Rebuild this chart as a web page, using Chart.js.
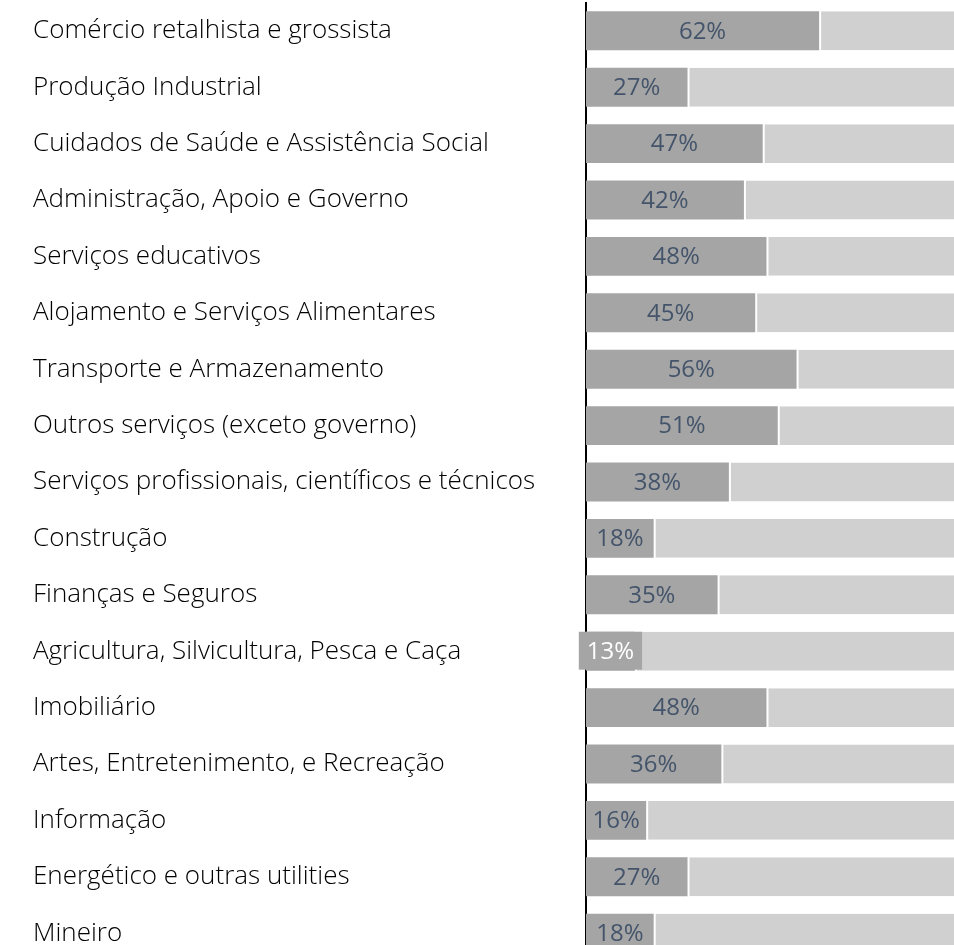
<!DOCTYPE html>
<html>
<head>
<meta charset="utf-8">
<script src="https://cdn.jsdelivr.net/npm/chart.js@4/dist/chart.umd.min.js"></script>
<style>
    html, body { margin: 0; padding: 0; background: #fff; overflow: hidden; }
    #wrap { width: 954px; height: 945px; overflow: hidden; position: relative; }
    canvas { position: absolute; left: 0; top: -16px; }
</style>
</head>
<body>
<div id="wrap"><canvas id="myChart" width="962" height="996" style="width:962px;height:996px"></canvas></div>
<script>
const sectors = [
    "Comércio retalhista e grossista",
    "Produção Industrial",
    "Cuidados de Saúde e Assistência Social",
    "Administração, Apoio e Governo",
    "Serviços educativos",
    "Alojamento e Serviços Alimentares",
    "Transporte e Armazenamento",
    "Outros serviços (exceto governo)",
    "Serviços profissionais, científicos e técnicos",
    "Construção",
    "Finanças e Seguros",
    "Agricultura, Silvicultura, Pesca e Caça",
    "Imobiliário",
    "Artes, Entretenimento, e Recreação",
    "Informação",
    "Energético e outras utilities",
    "Mineiro"
];
const shares = [62, 27, 47, 42, 48, 45, 56, 51, 38, 18, 35, 13, 48, 36, 16, 27, 18];
const remainder = shares.map(v => 100 - v);

const darkGray = '#a5a5a5';
const lightGray = '#d0d0d0';
const labelColor = '#44546a';

// value labels centred in the dark segment; boxed in white when they don't fit
const valueLabels = {
    id: 'valueLabels',
    afterDraw(chart) {
        const ctx = chart.ctx;
        const meta = chart.getDatasetMeta(0);
        ctx.save();
        ctx.font = '24px "Open Sans"';
        ctx.textBaseline = 'middle';
        ctx.textAlign = 'center';
        meta.data.forEach((bar, i) => {
            const text = shares[i] + '%';
            const w = ctx.measureText(text).width;
            const cx = (bar.x + bar.base) / 2;
            const segW = bar.x - bar.base;
            if (w + 6 > segW) {
                const boxW = w + 16;
                ctx.fillStyle = darkGray;
                ctx.fillRect(cx - boxW / 2, bar.y - bar.height / 2, boxW, bar.height - 1);
                ctx.fillStyle = '#ffffff';
            } else {
                ctx.fillStyle = labelColor;
            }
            ctx.fillText(text, cx, bar.y + 1);
        });
        ctx.restore();
    }
};

const ctx = document.getElementById('myChart').getContext('2d');
new Chart(ctx, {
    type: 'bar',
    data: {
        labels: sectors,
        datasets: [
            {
                data: shares,
                backgroundColor: darkGray,
                borderWidth: 0,
                categoryPercentage: 1,
                barPercentage: 0.69
            },
            {
                data: remainder,
                backgroundColor: lightGray,
                borderColor: '#ffffff',
                borderWidth: { left: 2, top: 0, right: 0, bottom: 0 },
                borderSkipped: false,
                categoryPercentage: 1,
                barPercentage: 0.69
            }
        ]
    },
    options: {
        indexAxis: 'y',
        responsive: false,
        animation: false,
        layout: { padding: { left: 33, top: 2, right: 0, bottom: 1 } },
        plugins: {
            legend: { display: false },
            tooltip: { enabled: false }
        },
        scales: {
            x: {
                stacked: true,
                min: 0,
                max: 100,
                display: false
            },
            y: {
                stacked: true,
                afterFit: (scale) => { scale.width = 553; },
                grid: { display: true, color: 'rgba(0,0,0,0)', drawTicks: false },
                border: { display: true, color: '#000000', width: 2 },
                ticks: {
                    crossAlign: 'far',
                    color: '#000000',
                    font: { family: '"Open Sans"', size: 26, weight: 300 }
                }
            }
        }
    },
    plugins: [valueLabels]
});
</script>
</body>
</html>
